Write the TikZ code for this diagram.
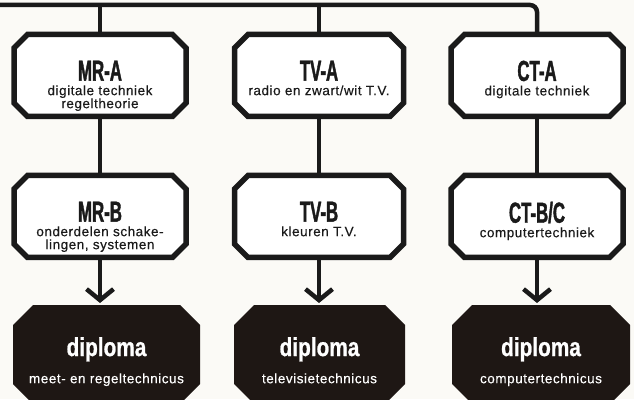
\documentclass[tikz,border=0pt]{standalone}
\usepackage{fontspec}
\setmainfont{Liberation Sans}
\newfontfamily\headfont[FakeStretch=0.58,FakeBold=1.3]{Liberation Sans}
\newfontfamily\diplomafont[FakeStretch=0.8,FakeBold=0.8]{Liberation Sans}
\newfontfamily\subfont[LetterSpace=4,FakeBold=0.3]{Liberation Sans}
\usetikzlibrary{arrows.meta, positioning}
\definecolor{paper}{HTML}{FBFAF6}
\definecolor{ink}{HTML}{1A1A1A}
\definecolor{darkbrown}{HTML}{1E1714}
\newcommand{\vak}[1]{\raisebox{0pt}[\height][0pt]{\headfont\bfseries\fontsize{29}{29}\selectfont #1}}
\newcommand{\dipl}{{\diplomafont\bfseries\fontsize{26}{26}\selectfont diploma}}

\begin{document}
\begin{tikzpicture}[x=1pt, y=1pt,
  octagon/.style 2 args={append after command={\pgfextra{\path[#2]
    ([xshift=#1]\tikzlastnode.north west) -- ([xshift=-#1]\tikzlastnode.north east)
    -- ([yshift=-#1]\tikzlastnode.north east) -- ([yshift=#1]\tikzlastnode.south east)
    -- ([xshift=-#1]\tikzlastnode.south east) -- ([xshift=#1]\tikzlastnode.south west)
    -- ([yshift=#1]\tikzlastnode.south west) -- ([yshift=-#1]\tikzlastnode.north west) -- cycle;}}},
  course/.style={rectangle, minimum width=172pt, minimum height=82pt, inner sep=0pt, outer sep=0pt,
    octagon={13.5pt}{draw=ink, line width=5.5pt, fill=white}},
  diploma/.style={rectangle, minimum width=178pt, minimum height=99pt, inner sep=0pt, outer sep=0pt,
    octagon={20pt}{fill=darkbrown}},
  coursetext/.style={inner sep=0pt, align=center, text=ink, font=\subfont\fontsize{13.5}{13}\selectfont},
  diplomatext/.style={inner sep=0pt, align=center, text=white, font=\subfont\fontsize{13.5}{13}\selectfont},
  wire/.style={draw=ink, line width=4.5pt}]
  \useasboundingbox (0,0) rectangle (634,399);
  \fill[paper] (0,0) rectangle (634,399);
  \clip (0,0) rectangle (634,399);

  % first year
  \node[course] (mra) at (100,323.5) {};
  \node[course, minimum width=169pt] (tva) at (319,323.5) {};
  \node[course] (cta) at (537,323.5) {};
  \node[coursetext, below=26pt of mra.north] (mra-t) {\vak{MR-A}\\[1.5pt]digitale techniek\\regeltheorie};
  \node[coursetext, below=26pt of tva.north] (tva-t) {\vak{TV-A}\\[1.5pt]radio en zwart/wit T.V.};
  \node[coursetext, below=26pt of cta.north] (cta-t) {\vak{CT-A}\\[1.5pt]digitale techniek};

  % second year
  \node[course] (mrb) at (100,182.5) {};
  \node[course, minimum width=169pt] (tvb) at (319,182.5) {};
  \node[course] (ctb) at (537,182.5) {};
  \node[coursetext, below=26pt of mrb.north] (mrb-t) {\vak{MR-B}\\[1.5pt]onderdelen schake-\\lingen, systemen};
  \node[coursetext, below=26pt of tvb.north] (tvb-t) {\vak{TV-B}\\[1.5pt]kleuren T.V.};
  \node[coursetext, below=26pt of ctb.north] (ctb-t) {\vak{CT-B/C}\\[1.5pt]computertechniek};

  % diplomas
  \node[diploma, minimum width=187pt] (mrd) at (106.5,44.5) {};
  \node[diploma, minimum width=171pt] (tvd) at (319.5,44.5) {};
  \node[diploma] (ctd) at (541,44.5) {};
  \node[diplomatext, below=32pt of mrd.north] (mrd-t) {\dipl\\[11pt]meet- en regeltechnicus};
  \node[diplomatext, below=32pt of tvd.north] (tvd-t) {\dipl\\[11pt]televisietechnicus};
  \node[diplomatext, below=32pt of ctd.north] (ctd-t) {\dipl\\[11pt]computertechnicus};

  % connectors
  \coordinate (bar) at (-5,394);
  \draw[wire, rounded corners=7pt] (bar) -| (cta.north);
  \draw[wire] (mra.north) -- (mra.north |- bar);
  \draw[wire] (tva.north) -- (tva.north |- bar);
  \draw[wire] (mra.south) -- (mrb.north);
  \draw[wire] (tva.south) -- (tvb.north);
  \draw[wire] (cta.south) -- (ctb.north);
  \draw[wire, -{Straight Barb[length=11pt, width=27pt]}, shorten >=2pt] (mrb.south) -- (mrb.south |- mrd.north);
  \draw[wire, -{Straight Barb[length=11pt, width=27pt]}, shorten >=2pt] (tvb.south) -- (tvb.south |- tvd.north);
  \draw[wire, -{Straight Barb[length=11pt, width=27pt]}, shorten >=2pt] (ctb.south) -- (ctb.south |- ctd.north);
\end{tikzpicture}
\end{document}
